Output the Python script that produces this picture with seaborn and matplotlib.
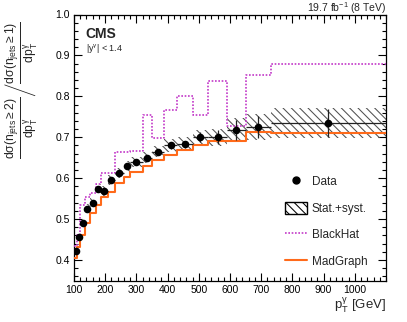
import numpy as np
import pandas as pd
import matplotlib
matplotlib.use("Agg")
import matplotlib.pyplot as plt
from matplotlib import font_manager
from matplotlib.lines import Line2D
from matplotlib.patches import Patch
from matplotlib.ticker import MultipleLocator
import seaborn as sns

# ---- data ----
bin_edges = [100, 110, 120, 135, 150, 170, 185, 210, 230, 260, 280,
             320, 350, 390, 430, 480, 530, 590, 650, 730, 1100]
data_ratio = [0.423, 0.457, 0.490, 0.525, 0.540, 0.574, 0.569, 0.595, 0.613, 0.629,
              0.640, 0.650, 0.665, 0.680, 0.683, 0.700, 0.700, 0.718, 0.725, 0.735]
stat_err = [0.003, 0.003, 0.003, 0.004, 0.004, 0.004, 0.004, 0.005, 0.005, 0.005,
            0.006, 0.007, 0.007, 0.008, 0.009, 0.012, 0.017, 0.025, 0.027, 0.035]
total_err = [0.010, 0.010, 0.011, 0.011, 0.011, 0.012, 0.012, 0.012, 0.013, 0.013,
             0.013, 0.014, 0.014, 0.015, 0.017, 0.018, 0.021, 0.028, 0.031, 0.036]
blackhat = [0.435, 0.460, 0.535, 0.554, 0.564, 0.586, 0.612, 0.612, 0.665, 0.665,
            0.667, 0.755, 0.698, 0.767, 0.802, 0.755, 0.837, 0.728, 0.851, 0.878]
madgraph = [0.404, 0.432, 0.461, 0.490, 0.514, 0.535, 0.555, 0.567, 0.588, 0.604,
            0.616, 0.630, 0.645, 0.657, 0.669, 0.680, 0.691, 0.690, 0.714, 0.710]
x_ticks = [100, 200, 300, 400, 500, 600, 700, 800, 900, 1000]
y_ticks = [0.4, 0.5, 0.6, 0.7, 0.8, 0.9, 1.0]

# ---- style ----
sns.set_theme(style="ticks")
avail = {f.name for f in font_manager.fontManager.ttflist}
main_font = "Liberation Sans" if "Liberation Sans" in avail else "DejaVu Sans"
plt.rcParams["font.family"] = [main_font, "DejaVu Sans"]
plt.rcParams["mathtext.fontset"] = "custom"
plt.rcParams["mathtext.rm"] = main_font
plt.rcParams["mathtext.it"] = main_font
plt.rcParams["mathtext.bf"] = main_font + ":bold"
plt.rcParams["hatch.linewidth"] = 0.75

edges = np.array(bin_edges, dtype=float)
centers = 0.5 * (edges[:-1] + edges[1:])
halfw = 0.5 * (edges[1:] - edges[:-1])
df = pd.DataFrame({"pt": centers, "ratio": data_ratio})

W, H = 407, 322
fig = plt.figure(figsize=(W / 100, H / 100), dpi=100)
ax = fig.add_axes([74 / W, 1 - 280.5 / H, (386 - 74) / W, (280.5 - 14.5) / H])

# stat+syst band
lo = np.array(data_ratio) - np.array(total_err)
hi = np.array(data_ratio) + np.array(total_err)
ax.fill_between(edges, np.append(lo, lo[-1]), np.append(hi, hi[-1]), step="post",
                facecolor="none", edgecolor="#505050", hatch="\\\\\\\\", linewidth=0, zorder=2)

# theory step lines
bh_df = pd.DataFrame({"x": edges, "y": blackhat + [blackhat[-1]]})
mg_df = pd.DataFrame({"x": edges, "y": madgraph + [madgraph[-1]]})
sns.lineplot(data=bh_df, x="x", y="y", ax=ax, drawstyle="steps-post", color="#c238c8",
             linestyle=(0, (1, 1)), linewidth=1.2, sort=False, estimator=None, zorder=3)
sns.lineplot(data=mg_df, x="x", y="y", ax=ax, drawstyle="steps-post", color="#ff6a1a",
             linewidth=1.5, sort=False, estimator=None, zorder=3)

# data
ax.errorbar(centers, data_ratio, xerr=halfw, yerr=stat_err, fmt="none",
            ecolor="#222222", elinewidth=0.9, capsize=0, zorder=4)
sns.scatterplot(data=df, x="pt", y="ratio", ax=ax, color="black", s=30,
                edgecolor="black", linewidth=0, zorder=5)

ax.set_xlim(100, 1100)
ax.set_ylim(0.35, 1.0)
ax.set_xticks(x_ticks)
ax.set_xticklabels([str(t) for t in x_ticks])
ax.set_yticks(y_ticks)
ax.set_yticklabels([f"{t:.1f}" for t in y_ticks])
ax.xaxis.set_minor_locator(MultipleLocator(20))
ax.yaxis.set_minor_locator(MultipleLocator(0.02))
ax.tick_params(which="both", direction="in", top=True, right=True, colors="black",
               labelsize=7.5, width=0.8)
ax.tick_params(which="major", length=6, pad=3)
ax.tick_params(which="minor", length=3)
for s in ax.spines.values():
    s.set_linewidth(0.9)
    s.set_color("black")
ax.set_xlabel("")
ax.set_ylabel("")

# labels
fig.text(386 / W, 1 - 305 / H, r"p$_{\mathregular{T}}^{\gamma}$ [GeV]", ha="right", va="center", fontsize=9.5)
fig.text(386 / W, 1 - 8 / H, r"19.7 fb$^{-1}$ (8 TeV)", ha="right", va="center", fontsize=7.5)
ax.text(0.038, 0.925, "CMS", transform=ax.transAxes, fontsize=10, fontweight="bold",
        ha="left", va="center")
ax.text(0.038, 0.872, r"|y$^{\gamma}$| < 1.4", transform=ax.transAxes, fontsize=6.5,
        ha="left", va="center")
ylab = (r"$\frac{d\sigma(n_{jets}\geq 2)}{dp_{T}^{\gamma}}\left/"
        r"\frac{d\sigma(n_{jets}\geq 1)}{dp_{T}^{\gamma}}\right.$")
fig.text(21 / W, 1 - 90 / H, ylab, rotation=90, ha="center", va="center", fontsize=12.5)

# legend
handles = [
    Line2D([], [], marker="o", color="black", linestyle="none", markersize=5),
    Patch(facecolor="white", edgecolor="black", hatch="\\\\\\\\", linewidth=1),
    Line2D([], [], color="#c238c8", linestyle=(0, (1, 1)), linewidth=1.2),
    Line2D([], [], color="#ff6a1a", linewidth=1.5),
]
labels = ["Data", "Stat.+syst.", "BlackHat", "MadGraph"]
fig.legend(handles, labels, loc="upper left", bbox_to_anchor=(285 / W, 1 - 175 / H),
           frameon=False, fontsize=8.5, handlelength=1.9, handleheight=1.2,
           handletextpad=0.35, labelspacing=1.15, borderpad=0, borderaxespad=0)

fig.savefig("out.png", dpi=100)
